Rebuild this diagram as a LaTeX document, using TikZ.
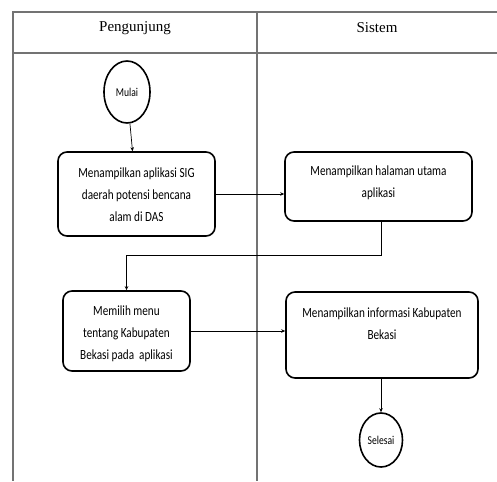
\documentclass[tikz,border=0pt]{standalone}
\usepackage{fontspec}
\setmainfont{Carlito}
\newfontfamily\boxfont{Carlito}[FakeStretch=0.8]
\newfontfamily\headfont{Liberation Serif}
\usetikzlibrary{arrows.meta,shapes.geometric}
\begin{document}
\begin{tikzpicture}[x=1pt,y=-1pt,
  lane/.style={draw=black!55,line width=1.6pt},
  actbox/.style={draw=black,line width=1.6pt,rounded corners=9pt,inner sep=0pt},
  boxtxt/.style={align=center,inner sep=0pt,font=\boxfont\fontsize{14}{22}\selectfont},
  term/.style={draw=black,line width=1.6pt,ellipse,inner sep=0pt,
    font=\boxfont\fontsize{12}{14}\selectfont},
  flow/.style={draw=black,line width=0.7pt,-{Stealth[length=4pt,width=3.5pt]}},
  headtxt/.style={font=\headfont\fontsize{15}{17}\selectfont}]
\useasboundingbox (0,0) rectangle (497,481);
\fill[white] (0,0) rectangle (497,481);
% swimlane frame
\draw[lane] (497,12) -- (13,12) -- (13,481);
\draw[lane] (13,53) -- (497,53);
\draw[lane] (257,12) -- (257,481);
\node[headtxt] (h1) at (135,28) {Pengunjung};
\node[headtxt] (h2) at (377,28) {Sistem};
% activity boxes
\node[term,minimum width=46pt,minimum height=62pt] (start) at (127,92) {Mulai};
\node[actbox,minimum width=157pt,minimum height=84pt] (a1) at (136.5,194) {};
\node[actbox,minimum width=187pt,minimum height=69pt] (a2) at (378.5,186.5) {};
\node[actbox,minimum width=127pt,minimum height=80pt] (a3) at (126.5,331) {};
\node[actbox,minimum width=192pt,minimum height=86pt] (a4) at (382,335) {};
\node[term,minimum width=43pt,minimum height=54pt] (end) at (381,440) {Selesai};
% box texts
\node[boxtxt] (t1) at (136.5,195)
  {Menampilkan aplikasi SIG\\daerah potensi bencana\\alam di DAS};
\node[boxtxt] (t2) at (378.5,183) {Menampilkan halaman utama\\aplikasi};
\node[boxtxt] (t3) at (126.5,334)
  {Memilih menu\\tentang Kabupaten\\Bekasi pada\ \ aplikasi};
\node[boxtxt] (t4) at (382,324) {Menampilkan informasi Kabupaten\\Bekasi};
\coordinate (bend) at (381,255);
% connectors
\draw[flow] (start) -- (a1);
\draw[flow] (a1.east) -- (a2.west |- a1.east);
\draw[flow] (a2.south -| bend) -- (bend) -| (a3.north);
\draw[flow] (a3.east) -- (a4.west |- a3.east);
\draw[flow] (a4.south -| end) -- (end);
\end{tikzpicture}
\end{document}
